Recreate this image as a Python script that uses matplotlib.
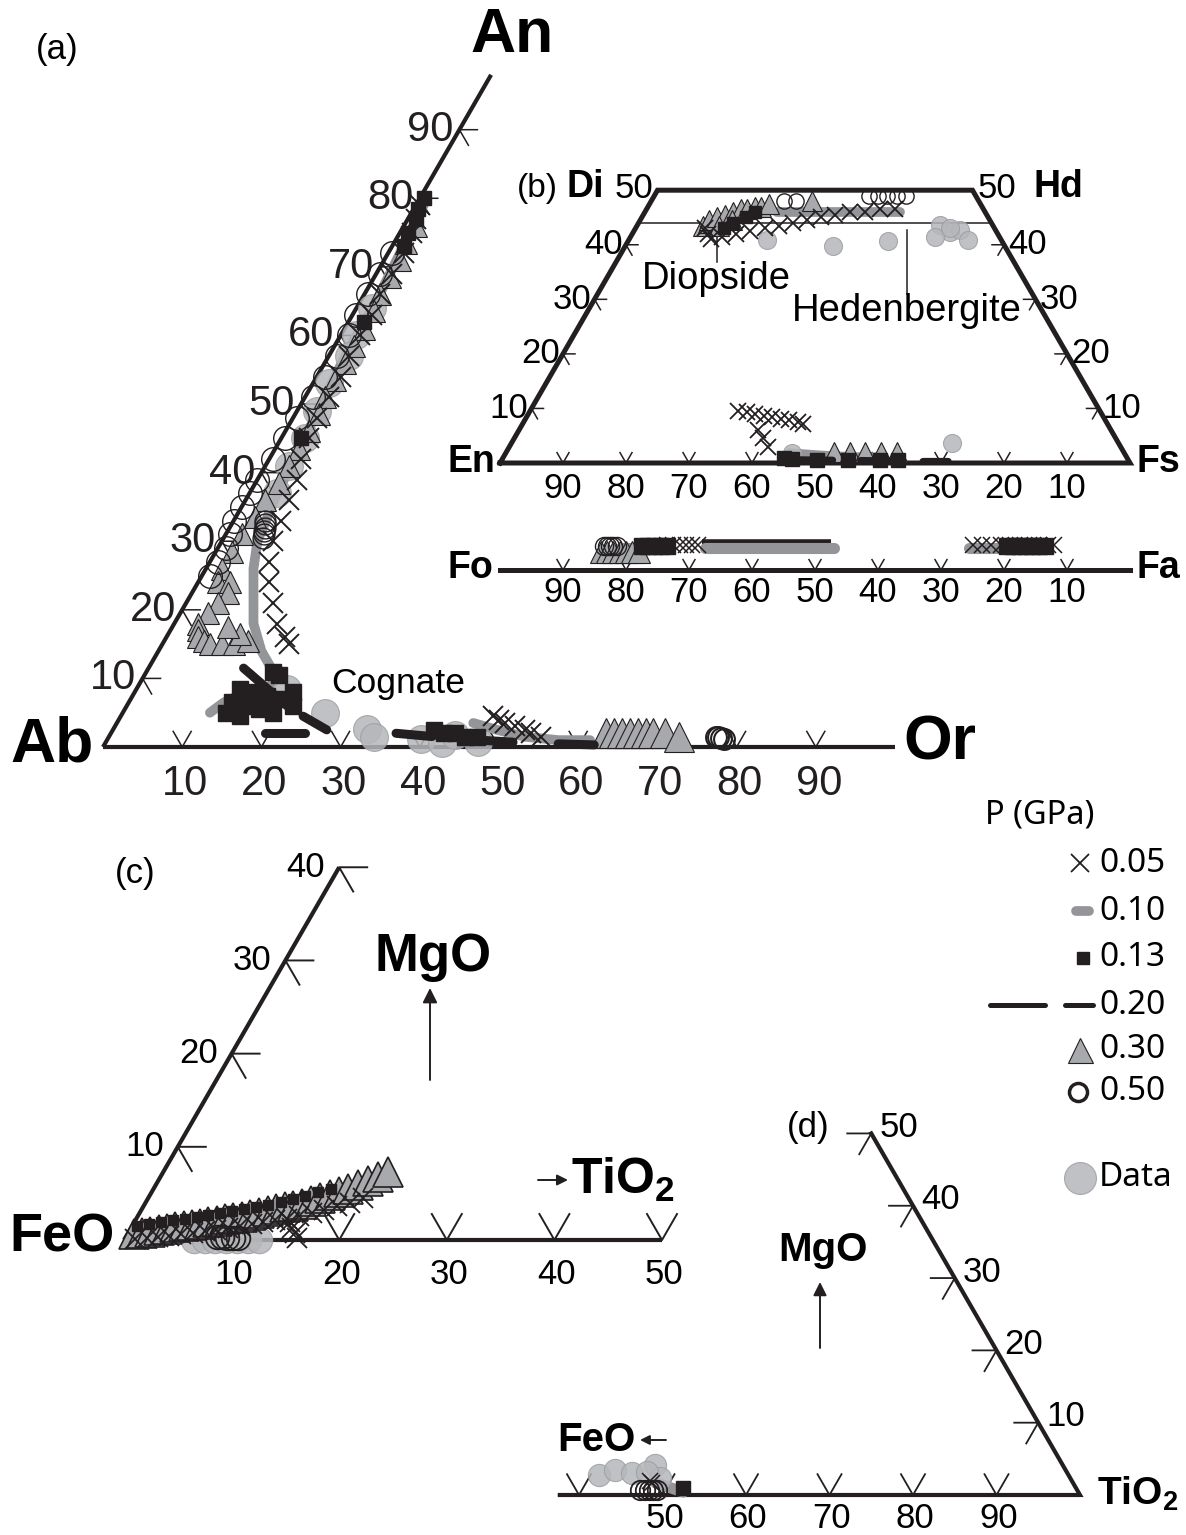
import numpy as np
import matplotlib.pyplot as plt

plt.rcParams["font.family"] = ["Liberation Sans", "DejaVu Sans"]
plt.rcParams["mathtext.fontset"] = "custom"
plt.rcParams["mathtext.rm"] = "Liberation Sans"
plt.rcParams["mathtext.bf"] = "Liberation Sans:bold"

PRETO = "#231f20"
CINZA_TRI = "#a7a9ac"
CINZA_LINHA = "#939598"
CINZA_DADO = "#b5b7ba"

# ---------------- (a) feldspatos: An e Or (%)
a05_an = [79, 77, 75, 72, 69, 66, 63, 60, 57, 54, 51, 48, 45, 42, 39, 36, 33, 30, 27, 24, 21, 18, 16, 15]
a05_or = [0.5, 1, 1.5, 2, 2, 2, 2.5, 2.5, 2.5, 3, 3, 3, 3.5, 4, 5, 5.5, 6, 6.5, 7.5, 9, 11, 13, 15, 16]
a05b_an = [4.5, 4, 3.5, 3, 2.5, 2, 1.5]
a05b_or = [47, 48, 49, 50.5, 52, 53, 54.5]

a10_an = [79, 72, 65, 58, 51, 44, 37, 30, 26, 22, 18, 14, 11.5, 10, 8.5, 8, 6.5, 5]
a10_or = [1, 1.5, 2, 2, 2.5, 3, 3.5, 4.5, 6, 8, 10, 13, 15.5, 17, 16.5, 14, 12, 11]
a10b_an = [3.5, 2.5, 1.5, 1, 1]
a10b_or = [45, 48.5, 52.5, 57, 61]

a13_an = [80, 78.5, 77, 75, 73, 62, 45]
a13_or = [0.5, 0.5, 1, 1, 1.5, 2, 2.5]
a13b_an = [11, 10.5, 8.5, 8, 7.5, 7, 6.5, 6, 5.5, 5, 8, 6, 5, 4.5]
a13b_or = [16, 17, 13, 15, 17, 19, 13, 15, 17, 19, 20, 21, 13, 15]
a13c_an = [2.5, 2, 2, 1.5, 1.5]
a13c_or = [40.5, 42, 43.5, 45, 46.5]

a20_an = [11.5, 10.5, 9.5, 7.5, 5.5, 3.5, 2.5]
a20_or = [12, 13.5, 15, 18, 21, 25, 27]
a20b_an = [2, 2]
a20b_or = [19.5, 24.5]
a20c_an = [2, 1.5, 1, 0.6, 0.3]
a20c_or = [36, 41, 47, 53, 62]

a30_an = [76, 73.5, 71, 68.5, 66, 63.5, 61, 58.5, 56, 53.5, 51, 48.5, 46, 43.5, 41, 38.5, 36, 33.5, 31, 28.5, 26, 24]
a30_or = [1.5, 1.5, 2, 2, 2, 2.5, 2.5, 2.5, 2.5, 2.5, 2.5, 3, 3, 3, 3, 3, 2.5, 2.5, 2, 2, 2, 2.5]
a30b_an = [24, 22.5, 21, 19.5, 18, 17, 16, 15.5, 15, 15, 15, 15.5, 16.5, 17.5]
a30b_or = [4, 4.5, 4, 3.5, 3, 3.5, 4, 5, 6, 7.5, 9, 10.5, 9, 7]
a30c_an = [2, 2, 2, 2, 2, 2, 2, 2, 1.5]
a30c_or = [62.5, 63.5, 64.5, 65.5, 66.5, 67.5, 68.5, 70, 72]

a50_an = [72, 69, 66, 63, 60, 57, 54, 51, 48, 45, 42, 39, 37, 35, 33, 31, 29, 27, 25]
a50_or = [0.5, 0.5, 0.5, 0.5, 1, 1, 1, 1, 0.5, 0.5, 0.5, 0, 0, 0, 0, 0.5, 1, 1, 1]
a50b_an = [33, 32.5, 32, 31.5, 31, 30.5]
a50b_or = [4, 4.2, 4.4, 4.6, 4.8, 5]
a50c_an = [1.5, 1.4, 1.3, 1.2]
a50c_or = [76.6, 77, 77.4, 77.8]

ad_an = [64, 60, 57, 53, 49, 45, 41, 37, 8.5, 5, 2.6, 1.5, 1.2, 0.6, 1.8, 0.8]
ad_or = [2, 2, 2.5, 2, 2.5, 3, 3, 3.5, 19, 25.5, 32, 33.5, 39.5, 42.5, 43.5, 47]

# ---------------- (b) piroxênio: Wo e Fs (%)
b05_wo = [43, 42, 41, 41.5, 42, 42.5, 43, 43.5, 44, 44.5, 45, 45.5, 46, 46, 46.5, 46.5]
b05_fs = [11, 12, 13, 14.5, 16.5, 18.5, 20.5, 22.5, 24.5, 26.5, 28.5, 30.5, 32.5, 35, 37, 39.5]
b05b_wo = [9.5, 9.3, 9, 8.7, 8.4, 8.1, 7.8, 7.5, 7.2, 6, 4.5, 3]
b05b_fs = [33, 34.5, 36, 37.5, 39, 40.5, 42, 43.5, 44.5, 38, 39.5, 41]
b10_wo = [46, 46, 46, 46]
b10_fs = [21, 27, 34, 40.5]
b10b_wo = [1.8, 1.4, 1.1, 1]
b10b_fs = [45, 50, 55, 60]
b13_wo = [43, 44, 45, 46]
b13_fs = [14, 15, 16.5, 17.5]
b13b_wo = [1, 0.8, 0.6, 0.6, 0.5, 0.5]
b13b_fs = [44.5, 46, 50, 55, 60, 63]
b20b_wo = [0.6, 0.5, 0.4, 0.3, 0.3]
b20b_fs = [47, 55, 62, 67, 71]
b30_wo = [43.5, 44, 44.5, 45, 45.5, 46, 46.5, 46.5, 47, 47, 47.5, 48, 43.5, 44.5]
b30_fs = [10.5, 11, 11, 12, 13, 14, 15, 16, 17, 18, 19, 25.5, 13, 14.5]
b30b_wo = [2, 2, 2, 2, 2]
b30b_fs = [52, 54.5, 57, 59.5, 62]
b50_wo = [49, 49, 49, 49, 49, 48, 48]
b50_fs = [34, 35.5, 37, 38.5, 40, 21, 23]
bd_wo = [40.8, 39.7, 40.7, 43.6, 42.3, 42.7, 40.8, 41.4, 43, 3.7, 1.8]
bd_fs = [22, 33, 41.3, 48, 50.3, 51.7, 53.9, 48.3, 50, 69.9, 45.5]

# olivina: Fo (%)
o05_fo = [73.5, 72.5, 71.5, 70.5, 69.5, 68.5, 25, 23.5, 22, 20.5, 19, 17.5, 16, 14.5, 13, 12]
o10_fo = [[81, 74.5], [67.5, 47], [25.5, 19.5]]
o13_fo = [77.5, 76.5, 75.5, 74.5, 73.5, 19.5, 18.5, 17.5, 16.5, 15.5, 14.5, 13.5]
o20_fo = [68, 47.5]
o30_fo = [84, 83, 82, 81, 80, 79, 78]
o50_fo = [83.5, 83, 82.5, 82, 81.5]

# ---------------- (c) FeO-MgO-TiO2 (%)
c05_ti = [1, 2, 3, 4, 5, 6, 7, 8, 9, 10, 11, 12, 13, 14, 15, 16, 17, 18, 19, 20, 14.5, 15, 15.5, 16]
c05_mg = [0.1, 0.2, 0.3, 0.4, 0.6, 0.8, 1.0, 1.1, 1.3, 1.5, 1.7, 1.9, 2.1, 2.3, 2.6, 2.9, 3.2, 3.6, 4.0, 4.5,
          1.9, 1.3, 0.7, 0.2]
c13_ti = [0.5, 1.5, 2.5, 3.5, 4.5, 5.5, 6.5, 7.5, 8.5, 9.5, 10.5, 11.5, 12.5, 13.5, 14.5, 15.5, 16.5]
c13_mg = [1.5, 1.7, 1.9, 2.1, 2.3, 2.5, 2.7, 2.9, 3.1, 3.3, 3.5, 3.8, 4.1, 4.4, 4.7, 5.1, 5.5]
c30_ti = [0.6, 1.3, 2.0, 2.7, 3.4, 4.1, 4.8, 5.5, 6.2, 6.9, 7.6, 8.3, 9.0, 9.7, 10.4, 11.1, 11.8, 12.5,
          13.2, 13.9, 14.6, 15.3, 16.0, 16.7, 17.4, 18.1, 18.8, 19.5, 20.2, 20.9]
c30_mg = [0.6, 0.75, 0.9, 1.05, 1.2, 1.35, 1.5, 1.6, 1.75, 1.9, 2.05, 2.2, 2.35, 2.5, 2.7, 2.9, 3.1, 3.3,
          3.5, 3.7, 3.9, 4.2, 4.5, 4.8, 5.1, 5.5, 5.9, 6.3, 6.8, 7.3]
c50_ti = [8.5, 9, 9.5, 10, 10.5]
c50_mg = [0.3, 0.3, 0.2, 0.2, 0.2]
cd_ti = [6.5, 7.5, 8.5, 9.5, 10.5, 11.5, 12.5]
cd_mg = [0, 0, 0, 0, 0, 0, 0]

# ---------------- (d) FeO-MgO-TiO2 (%)
d05_ti = [47.5, 48]
d05_mg = [2.0, 1.6]
d10_ti = [48.3, 52.3]
d10_mg = [1.7, 0.4]
d13_ti = [52]
d13_mg = [1]
d50_ti = [47, 47.5, 48, 48.5, 49]
d50_mg = [0.7, 0.7, 0.7, 0.7, 0.7]
dd_ti = [41, 42.6, 44.8, 47, 48.5, 46.5]
dd_mg = [2.8, 3.5, 3, 4.1, 2.4, 3.2]

legenda_rot = ["0.05", "0.10", "0.13", "0.20", "0.30", "0.50"]

# ---------------- geometria (pixels da figura)
R3 = np.sqrt(3) / 2
A_ORIG, A_LADO = (103, 747), 792
B_ORIG, B_LADO = (500, 463), 630
OL_Y = 570
C_ORIG, C_LADO = (124, 1240), 1076
D_ORIG, D_LADO = (245, 1495), 835


def tern(orig, lado, direita, cima):
    direita = np.asarray(direita, dtype=float)
    cima = np.asarray(cima, dtype=float)
    x = orig[0] + (direita + cima / 2) / 100 * lado
    y = orig[1] - cima / 100 * lado * R3
    return x, y


def olivina(fo):
    return B_ORIG[0] + (100 - np.asarray(fo, dtype=float)) / 100 * B_LADO


def cruz(ax, x, y, ms, mew=1.1):
    ax.plot(x, y, ls="none", marker="x", ms=ms, mec=PRETO, mew=mew, zorder=5)


def tri(ax, x, y, ms, mew=0.8):
    ax.plot(x, y, ls="none", marker="^", ms=ms, mfc=CINZA_TRI, mec=PRETO, mew=mew, zorder=3)


def circ(ax, x, y, ms, mew=1.0):
    ax.plot(x, y, ls="none", marker="o", ms=ms, mfc="none", mec=PRETO, mew=mew, zorder=4)


def quad(ax, x, y, ms):
    ax.plot(x, y, ls="none", marker="s", ms=ms, mfc=PRETO, mec=PRETO, zorder=4)


def faixa(ax, x, y, lw):
    ax.plot(x, y, color=CINZA_LINHA, lw=lw, solid_capstyle="round",
            solid_joinstyle="round", zorder=2)


def traco(ax, x, y, lw, dashes=(4, 5)):
    ax.plot(x, y, color=PRETO, lw=lw, dashes=dashes, dash_capstyle="round",
            dash_joinstyle="round", zorder=6)


def dado(ax, x, y, ms):
    ax.plot(x, y, ls="none", marker="o", ms=ms, mfc=CINZA_DADO, mec="#9d9fa2",
            mew=0.8, alpha=0.85, zorder=3)


def marca_base(ax, xs, ys, L, lw=1.1):
    for x, y in zip(np.atleast_1d(xs), np.atleast_1d(ys)):
        ax.plot([x - L / 2, x, x + L / 2], [y - L * R3, y, y - L * R3], color=PRETO, lw=lw)


def marca_esq(ax, xs, ys, L, lw=1.1):
    for x, y in zip(np.atleast_1d(xs), np.atleast_1d(ys)):
        ax.plot([x + L, x, x + L / 2], [y, y, y + L * R3], color=PRETO, lw=lw)


def marca_dir(ax, xs, ys, L, lw=1.1):
    for x, y in zip(np.atleast_1d(xs), np.atleast_1d(ys)):
        ax.plot([x - L, x, x - L / 2], [y, y, y + L * R3], color=PRETO, lw=lw)


fig = plt.figure(figsize=(11.86, 15.35), dpi=100)
ax = fig.add_axes([0, 0, 1, 1])
ax.set_xlim(0, 1186)
ax.set_ylim(1535, 0)
ax.axis("off")

# ================= (a)
px, py = tern(A_ORIG, A_LADO, [0, 0], [0, 98])
ax.plot(px, py, color=PRETO, lw=3, solid_capstyle="butt")
px, py = tern(A_ORIG, A_LADO, [0, 100], [0, 0])
ax.plot(px, py, color=PRETO, lw=3, solid_capstyle="butt")
niveis = np.arange(10, 100, 10)
tx, ty = tern(A_ORIG, A_LADO, 0 * niveis, niveis)
marca_esq(ax, tx, ty, 18)
for x, y, n in zip(tx, ty, niveis):
    ax.text(x - 6, y, str(n), fontsize=30, ha="right", va="center", color=PRETO)
tx, ty = tern(A_ORIG, A_LADO, niveis, 0 * niveis)
marca_base(ax, tx, ty, 18)
for x, n in zip(tx, niveis):
    ax.text(x + 3, 784, str(n), fontsize=30, ha="center", va="center", color=PRETO)

faixa(ax, *tern(A_ORIG, A_LADO, a10_or, a10_an), lw=7)
faixa(ax, *tern(A_ORIG, A_LADO, a10b_or, a10b_an), lw=7)
dado(ax, *tern(A_ORIG, A_LADO, ad_or, ad_an), ms=20)
tri(ax, *tern(A_ORIG, A_LADO, a30_or, a30_an), ms=16)
tri(ax, *tern(A_ORIG, A_LADO, a30b_or, a30b_an), ms=16)
tri(ax, *tern(A_ORIG, A_LADO, a30c_or, a30c_an), ms=21)
circ(ax, *tern(A_ORIG, A_LADO, a50_or, a50_an), ms=17)
circ(ax, *tern(A_ORIG, A_LADO, a50b_or, a50b_an), ms=15)
circ(ax, *tern(A_ORIG, A_LADO, a50c_or, a50c_an), ms=15, mew=1.5)
quad(ax, *tern(A_ORIG, A_LADO, a13_or, a13_an), ms=10)
quad(ax, *tern(A_ORIG, A_LADO, a13b_or, a13b_an), ms=11)
quad(ax, *tern(A_ORIG, A_LADO, a13c_or, a13c_an), ms=11)
cruz(ax, *tern(A_ORIG, A_LADO, a05_or, a05_an), ms=14, mew=1.4)
cruz(ax, *tern(A_ORIG, A_LADO, a05b_or, a05b_an), ms=14, mew=1.4)
traco(ax, *tern(A_ORIG, A_LADO, a20_or, a20_an), lw=6.5, dashes=(7, 1.5))
traco(ax, *tern(A_ORIG, A_LADO, a20b_or, a20b_an), lw=6.5, dashes=(20, 1))
traco(ax, *tern(A_ORIG, A_LADO, a20c_or, a20c_an), lw=6.5)

ax.text(57, 50, "(a)", fontsize=25, ha="center", va="center")
ax.text(512, 35, "An", fontsize=45, fontweight="bold", ha="center", va="center")
ax.text(52, 745, "Ab", fontsize=45, fontweight="bold", ha="center", va="center")
ax.text(940, 743, "Or", fontsize=45, fontweight="bold", ha="center", va="center")
ax.text(398, 684, "Cognate", fontsize=25.5, ha="center", va="center")

# ================= (b) piroxênio
cx, cy = tern(B_ORIG, B_LADO, [0, 0, 50, 100, 0], [0, 50, 50, 0, 0])
ax.plot(cx, cy, color=PRETO, lw=3.6, solid_joinstyle="miter")
lx, ly = tern(B_ORIG, B_LADO, [0, 56], [44, 44])
ax.plot(lx, ly, color=PRETO, lw=1.1)
ax.plot([717, 717], [226, 262], color=PRETO, lw=1.1)
ax.plot([907, 907], [230, 294], color=PRETO, lw=1.1)

niv_b = np.arange(10, 50, 10)
tx, ty = tern(B_ORIG, B_LADO, 0 * niv_b, niv_b)
marca_esq(ax, tx, ty, 12)
for x, y, n in zip(tx, ty, niv_b):
    ax.text(x - 3, y, str(n), fontsize=25, ha="right", va="center")
tx, ty = tern(B_ORIG, B_LADO, 100 - niv_b, niv_b)
marca_dir(ax, tx, ty, 12)
for x, y, n in zip(tx, ty, niv_b):
    ax.text(x + 4, y, str(n), fontsize=25, ha="left", va="center")
tx, ty = tern(B_ORIG, B_LADO, 100 - niveis, 0 * niveis)
marca_base(ax, tx, ty, 12)
for x, n in zip(tx, niveis):
    ax.text(x, 488, str(n), fontsize=25, ha="center", va="center")

faixa(ax, *tern(B_ORIG, B_LADO, b10_fs, b10_wo), lw=7)
faixa(ax, *tern(B_ORIG, B_LADO, b10b_fs, b10b_wo), lw=7)
dado(ax, *tern(B_ORIG, B_LADO, bd_fs, bd_wo), ms=13)
tri(ax, *tern(B_ORIG, B_LADO, b30_fs, b30_wo), ms=15)
quad(ax, *tern(B_ORIG, B_LADO, b13_fs, b13_wo), ms=9)
quad(ax, *tern(B_ORIG, B_LADO, b13b_fs, b13b_wo), ms=10)
tri(ax, *tern(B_ORIG, B_LADO, b30b_fs, b30b_wo), ms=14)
circ(ax, *tern(B_ORIG, B_LADO, b50_fs, b50_wo), ms=11)
cruz(ax, *tern(B_ORIG, B_LADO, b05_fs, b05_wo), ms=11, mew=1.3)
cruz(ax, *tern(B_ORIG, B_LADO, b05b_fs, b05b_wo), ms=11, mew=1.3)
traco(ax, *tern(B_ORIG, B_LADO, b20b_fs, b20b_wo), lw=5, dashes=(5, 4))

ax.text(537, 188, "(b)", fontsize=24, ha="center", va="center")
ax.text(585, 187, "Di", fontsize=27, fontweight="bold", ha="center", va="center")
ax.text(653, 188, "50", fontsize=25, ha="right", va="center")
ax.text(978, 188, "50", fontsize=25, ha="left", va="center")
ax.text(1058, 187, "Hd", fontsize=27, fontweight="bold", ha="center", va="center")
ax.text(716, 279, "Diopside", fontsize=27.5, ha="center", va="center")
ax.text(907, 311, "Hedenbergite", fontsize=27.5, ha="center", va="center")
ax.text(471, 462, "En", fontsize=27, fontweight="bold", ha="center", va="center")
ax.text(1158, 462, "Fs", fontsize=27, fontweight="bold", ha="center", va="center")

# olivina
ax.plot(olivina([100, 0]), [OL_Y, OL_Y], color=PRETO, lw=3.6)
ox = olivina(niveis)
marca_base(ax, ox, np.full(len(ox), OL_Y), 12)
for x, fo in zip(ox, niveis):
    ax.text(x, 593, str(fo), fontsize=25, ha="center", va="center")
ax.plot(olivina(o20_fo), [542, 542], color=PRETO, lw=4, solid_capstyle="butt", zorder=2)
for seg in o10_fo:
    faixa(ax, olivina(seg), [548, 548], lw=8)
tri(ax, olivina(o30_fo), np.full(len(o30_fo), 552), ms=16)
circ(ax, olivina(o50_fo), np.full(len(o50_fo), 546), ms=13)
quad(ax, olivina(o13_fo), np.full(len(o13_fo), 546), ms=11)
cruz(ax, olivina(o05_fo), np.full(len(o05_fo), 545), ms=11)
ax.text(470, 568, "Fo", fontsize=27, fontweight="bold", ha="center", va="center")
ax.text(1158, 568, "Fa", fontsize=27, fontweight="bold", ha="center", va="center")

# ================= (c)
px, py = tern(C_ORIG, C_LADO, [0, 0], [0, 40])
ax.plot(px, py, color=PRETO, lw=3, solid_capstyle="butt")
px, py = tern(C_ORIG, C_LADO, [0, 50], [0, 0])
ax.plot(px, py, color=PRETO, lw=3, solid_capstyle="butt")
niv_c = np.arange(10, 50, 10)
tx, ty = tern(C_ORIG, C_LADO, 0 * niv_c, niv_c)
marca_esq(ax, tx, ty, 28, lw=1.4)
for x, y, n in zip(tx, ty, niv_c):
    ax.text(x - 14, y, str(n), fontsize=25, ha="right", va="center")
niv_c2 = np.arange(10, 60, 10)
tx, ty = tern(C_ORIG, C_LADO, niv_c2, 0 * niv_c2)
marca_base(ax, tx, ty, 30, lw=1.4)
for x, n in zip(tx, niv_c2):
    ax.text(x + 2, 1275, str(n), fontsize=25, ha="center", va="center")

dado(ax, *tern(C_ORIG, C_LADO, cd_ti, cd_mg), ms=19)
cruz(ax, *tern(C_ORIG, C_LADO, c05_ti, c05_mg), ms=15, mew=1.3)
quad(ax, *tern(C_ORIG, C_LADO, c13_ti, c13_mg), ms=7)
tri(ax, *tern(C_ORIG, C_LADO, c30_ti, c30_mg), ms=21, mew=1.2)
circ(ax, *tern(C_ORIG, C_LADO, c50_ti, c50_mg), ms=17, mew=1.3)

ax.text(135, 873, "(c)", fontsize=25, ha="center", va="center")
ax.text(62, 1238, "FeO", fontsize=39, fontweight="bold", ha="center", va="center")
ax.text(433, 957, "MgO", fontsize=38, fontweight="bold", ha="center", va="center")
ax.annotate("", xy=(430, 988), xytext=(430, 1080),
            arrowprops=dict(arrowstyle="-|>", color=PRETO, lw=1.4, mutation_scale=22,
                            shrinkA=0, shrinkB=0))
ax.annotate("", xy=(568, 1180), xytext=(538, 1180),
            arrowprops=dict(arrowstyle="-|>", color=PRETO, lw=1.4, mutation_scale=16,
                            shrinkA=0, shrinkB=0))
ax.text(571, 1180, r"TiO$_\mathbf{2}$", fontsize=36, fontweight="bold", ha="left", va="center")

# ================= (d)
px, py = tern(D_ORIG, D_LADO, [37.7, 100, 50], [0, 0, 50])
ax.plot(px, py, color=PRETO, lw=3, solid_joinstyle="miter")
niv_d = np.arange(10, 60, 10)
tx, ty = tern(D_ORIG, D_LADO, 100 - niv_d, niv_d)
marca_dir(ax, tx, ty, 24, lw=1.3)
for x, y, n in zip(tx, ty, niv_d):
    ax.text(x + 8, y - 6, str(n), fontsize=25, ha="left", va="center")
niv_d2 = np.arange(40, 100, 10)
tx, ty = tern(D_ORIG, D_LADO, niv_d2, 0 * niv_d2)
marca_base(ax, tx, ty, 24, lw=1.3)
for x, n in zip(tx[1:], niv_d2[1:]):
    ax.text(x + 2, 1518, str(n), fontsize=25, ha="center", va="center")

dado(ax, *tern(D_ORIG, D_LADO, dd_ti, dd_mg), ms=16)
circ(ax, *tern(D_ORIG, D_LADO, d50_ti, d50_mg), ms=14, mew=1.3)
faixa(ax, *tern(D_ORIG, D_LADO, d10_ti, d10_mg), lw=8)
quad(ax, *tern(D_ORIG, D_LADO, d13_ti, d13_mg), ms=10)
cruz(ax, *tern(D_ORIG, D_LADO, d05_ti, d05_mg), ms=12)

ax.text(808, 1128, "(d)", fontsize=25, ha="center", va="center")
ax.text(823, 1250, "MgO", fontsize=29, fontweight="bold", ha="center", va="center")
ax.annotate("", xy=(820, 1282), xytext=(820, 1348),
            arrowprops=dict(arrowstyle="-|>", color=PRETO, lw=1.4, mutation_scale=20,
                            shrinkA=0, shrinkB=0))
ax.text(596, 1440, "FeO", fontsize=29, fontweight="bold", ha="center", va="center")
ax.annotate("", xy=(640, 1440), xytext=(666, 1440),
            arrowprops=dict(arrowstyle="-|>", color=PRETO, lw=1.4, mutation_scale=14,
                            shrinkA=0, shrinkB=0))
ax.text(1097, 1494, r"TiO$_\mathbf{2}$", fontsize=28, fontweight="bold", ha="left", va="center")

# ================= legenda
fonte_leg = ["Noto Sans", "DejaVu Sans"]
ax.text(1040, 815, "P (GPa)", fontsize=23.5, family=fonte_leg, ha="center", va="center")
ys_leg = [863, 911, 958, 1005, 1050, 1092]
for y, rot in zip(ys_leg, legenda_rot):
    ax.text(1099, y, rot, fontsize=24, family=fonte_leg, ha="left", va="center")
ax.text(1099, 1178, "Data", fontsize=24, family=fonte_leg, ha="left", va="center")
cruz(ax, [1080], [ys_leg[0]], ms=13, mew=1.3)
faixa(ax, [1076, 1089], [ys_leg[1], ys_leg[1]], lw=7)
quad(ax, [1083], [ys_leg[2]], ms=8)
ax.plot([990, 1093], [ys_leg[3], ys_leg[3]], color=PRETO, lw=3.6, dashes=(11, 4),
        dash_capstyle="round")
tri(ax, [1080], [ys_leg[4]], ms=18)
circ(ax, [1078], [ys_leg[5]], ms=13, mew=2.5)
dado(ax, [1080], [1178], ms=23)

fig.savefig("out.png", dpi=100)
plt.close(fig)
